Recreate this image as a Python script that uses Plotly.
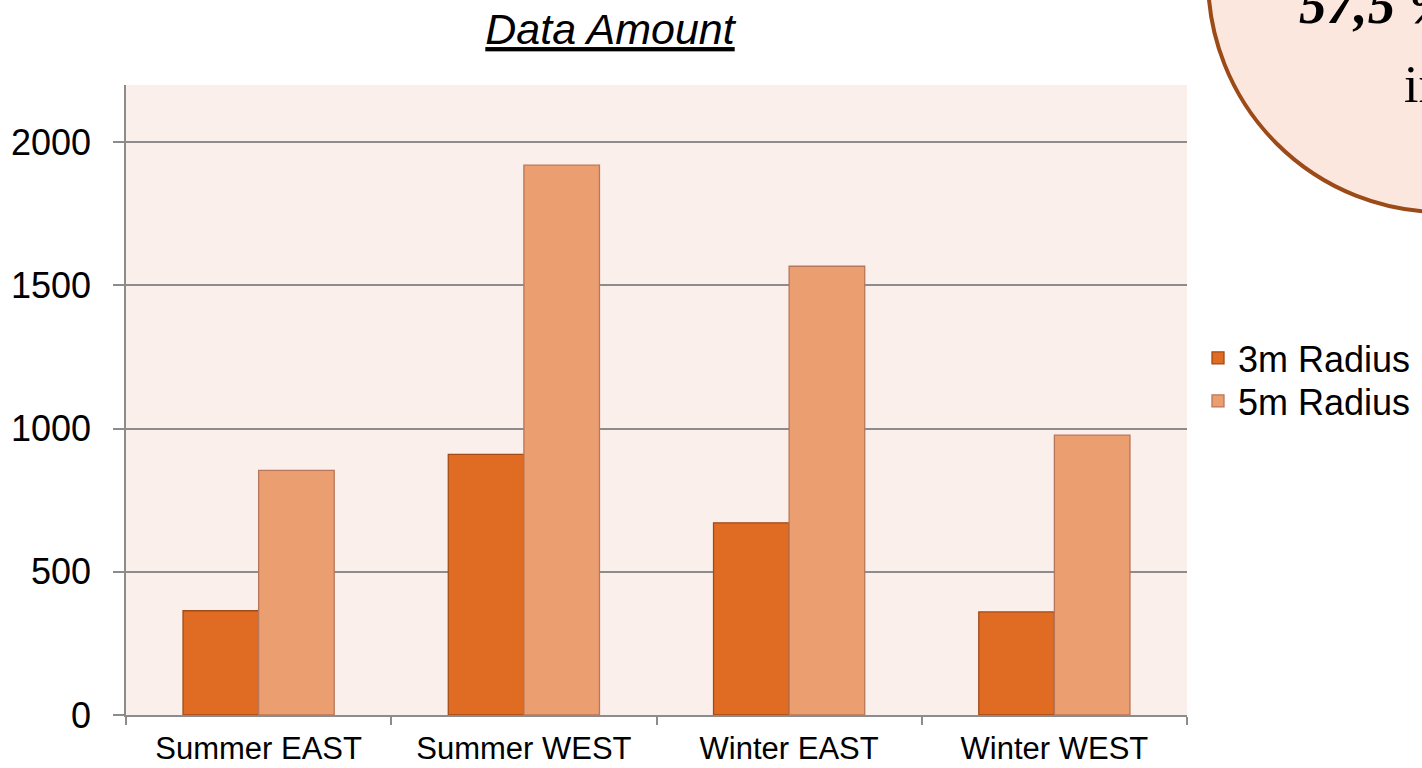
import plotly.graph_objects as go

categories = ["Summer EAST", "Summer WEST", "Winter EAST", "Winter WEST"]
radius_3m = [364, 910, 671, 360]
radius_5m = [854, 1920, 1567, 977]
series_names = ["3m Radius", "5m Radius"]
y_ticks = [0, 500, 1000, 1500, 2000]

W, H = 1422, 768
L, R, T, B = 126, 1187, 85, 715  # plot area in pixels


def px_x(p):
    return (p - L) / (R - L)


def px_y(p):
    return (B - p) / (B - T)


fig = go.Figure()
fig.add_trace(go.Bar(
    x=categories, y=radius_3m, name=series_names[0], legend="legend",
    marker=dict(color="#E06B22", line=dict(color="#A24A16", width=1.3)),
))
fig.add_trace(go.Bar(
    x=categories, y=radius_5m, name=series_names[1], legend="legend2",
    marker=dict(color="#EB9E70", line=dict(color="#B8775A", width=1.3)),
))

font_family = "Liberation Sans, Arial, sans-serif"
legend_common = dict(
    x=px_x(1198), xanchor="left", yanchor="middle",
    font=dict(size=36, family=font_family, color="black"),
    bgcolor="rgba(0,0,0,0)", itemclick=False,
)

fig.update_layout(
    width=W, height=H,
    margin=dict(l=L, r=W - R, t=T, b=H - B, pad=0, autoexpand=False),
    paper_bgcolor="white",
    plot_bgcolor="#FAEFEB",
    barmode="group",
    bargap=0.43,
    bargroupgap=0,
    font=dict(family=font_family, color="black"),
    title=dict(
        text="<i><u>Data Amount</u></i>",
        font=dict(size=43, family=font_family, color="black"),
        x=px_x(610), xref="paper", xanchor="center",
        y=1 - 29 / H, yref="container", yanchor="middle",
    ),
    legend=dict(y=px_y(358), **legend_common),
    legend2=dict(y=px_y(401), **legend_common),
    showlegend=True,
)

fig.update_yaxes(
    range=[0, 2200],
    tickvals=y_ticks,
    ticktext=[str(v) for v in y_ticks],
    showgrid=True, gridcolor="#8C8C8C", gridwidth=1.6,
    showline=True, linecolor="#8C8C8C", linewidth=1.6,
    ticks="outside", ticklen=11, tickcolor="#8C8C8C", tickwidth=1.6,
    tickfont=dict(size=36, family=font_family, color="black"),
    ticklabelstandoff=15,
    zeroline=False, automargin=False,
)
fig.update_xaxes(
    showline=True, linecolor="#8C8C8C", linewidth=1.6,
    ticks="outside", tickson="boundaries", ticklen=8,
    tickcolor="#8C8C8C", tickwidth=1.6,
    tickfont=dict(size=31, family=font_family, color="black"),
    ticklabelstandoff=5,
    showgrid=False, automargin=False,
)

# callout circle in the top-right corner (partly outside the page)
fig.add_shape(
    type="circle", xref="paper", yref="paper",
    x0=px_x(1208), x1=px_x(1676),
    y0=px_y(212), y1=px_y(-256),
    fillcolor="#FBE7DD",
    line=dict(color="#9C4A18", width=4),
    layer="above",
)
fig.add_annotation(
    text="<b><i>57,5 %</i></b>", xref="paper", yref="paper",
    x=px_x(1297), xanchor="left", y=px_y(25), yanchor="bottom",
    yshift=-12, showarrow=False,
    font=dict(size=55, family="Liberation Serif, Times New Roman, serif", color="black"),
)
fig.add_annotation(
    text="in", xref="paper", yref="paper",
    x=px_x(1402), xanchor="left", y=px_y(103), yanchor="bottom",
    yshift=-12, showarrow=False,
    font=dict(size=52, family="Liberation Serif, Times New Roman, serif", color="black"),
)

fig.write_html(
    "out.html",
    config={"displayModeBar": False},
    post_script="document.body.style.margin='0';document.body.style.overflow='hidden';",
)
